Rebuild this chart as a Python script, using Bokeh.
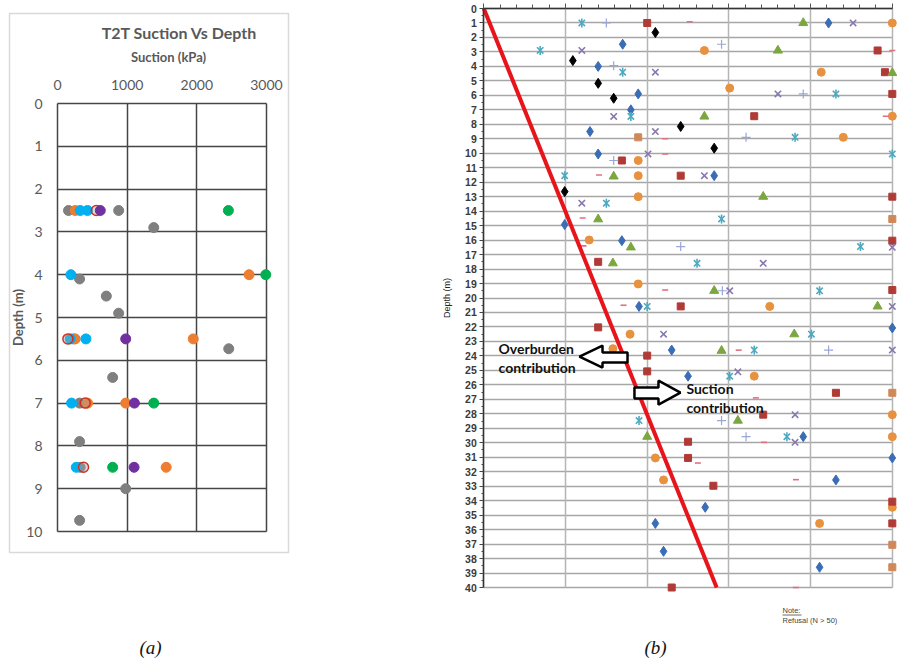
from bokeh.plotting import figure
from bokeh.layouts import row
from bokeh.models import Range1d, FixedTicker, LinearAxis, Grid
from bokeh.core.properties import value
from bokeh.embed import file_html
from bokeh.resources import INLINE
import math

# ---------------- Panel (a) data: suction (kPa) vs depth (m)
a_x_ticks = [0, 1000, 2000, 3000]
a_y_ticks = list(range(0, 11))
gray_x = [158, 878, 1382, 317, 701, 878, 230, 2458, 792, 317, 317, 326, 979, 317]
gray_y = [2.5, 2.5, 2.9, 4.1, 4.5, 4.9, 5.5, 5.73, 6.4, 7.0, 7.9, 8.5, 9.0, 9.74]
orange_x = [254, 2750, 254, 1949, 432, 979, 1560]
orange_y = [2.5, 4.0, 5.5, 5.5, 7.0, 7.0, 8.5]
cyan_x = [326, 430, 192, 182, 408, 202, 269]
cyan_y = [2.5, 2.5, 4.0, 5.5, 5.5, 7.0, 8.5]
ring_x = [557, 149, 398, 374]
ring_y = [2.5, 5.5, 7.0, 8.5]
purple_x = [614, 979, 1104, 1099]
purple_y = [2.5, 5.5, 7.0, 8.5]
green_x = [2453, 2990, 1382, 792]
green_y = [2.5, 4.0, 7.0, 8.5]

# ---------------- Panel (b) data: SPT N vs depth (m)
b_y_ticks = list(range(0, 41))
b_x_ticks = [0, 10, 20, 30, 40, 50]
bd_n = [17, 14, 18.9, 18, 13, 14, 28.2, 42.2, 9.9, 16.9, 19, 23, 50, 25, 39.1, 50, 43.1, 27.1, 21, 22, 41.1]
bd_d = [2.47, 4.0, 5.9, 7.0, 8.5, 10.05, 11.55, 1.0, 14.93, 16.04, 20.58, 23.6, 22.07, 25.4, 29.58, 31.05, 32.57, 34.46, 35.57, 37.5, 38.6]
kd_n = [21, 10.9, 14, 15.9, 24.1, 28.2, 9.9]
kd_d = [1.66, 3.6, 5.17, 6.2, 8.15, 9.65, 12.65]
rs_n = [20, 48.2, 49.1, 50, 33.1, 16.9, 24.1, 50, 50, 14, 50, 24.1, 14, 20, 20, 43.1, 34.2, 25, 25, 28.1, 50, 50, 23]
rs_d = [1.0, 2.9, 4.4, 5.9, 7.44, 10.5, 11.55, 13.0, 16.04, 17.5, 19.45, 20.58, 22.03, 23.98, 25.07, 26.55, 28.06, 29.93, 31.05, 32.97, 34.07, 35.57, 40.0]
gt_n = [39.1, 36, 50, 27, 15.9, 34.2, 14, 18, 15.8, 28.2, 48.2, 38, 29.1, 20, 31.1]
gt_d = [1.0, 2.9, 4.45, 7.46, 11.6, 13.0, 14.56, 16.5, 17.6, 19.5, 20.58, 22.5, 23.64, 29.58, 28.47]
px_n = [45.2, 12, 21, 36, 15.9, 21, 20.1, 27, 12, 50, 34.2, 30.1, 50, 22, 50, 31.1, 38.1, 38.1]
px_d = [1.0, 2.9, 4.4, 5.9, 7.46, 8.5, 10.05, 11.55, 13.45, 16.5, 17.6, 19.5, 20.58, 22.5, 23.6, 25.1, 28.06, 29.97]
ca_n = [12, 6.9, 17, 43.1, 18, 38.1, 50, 9.9, 15, 29.1, 46.1, 26.1, 41.1, 20, 40.1, 33.1, 30.1, 19, 37.1]
ca_d = [1.0, 2.9, 4.4, 5.9, 7.46, 8.9, 10.05, 11.55, 13.45, 14.54, 16.45, 17.6, 19.5, 20.58, 22.5, 23.6, 25.4, 28.47, 29.58]
oc_n = [50, 27, 41.3, 30.1, 50, 44, 18.9, 18.9, 18.9, 12.9, 18.9, 35, 17.9, 15.8, 33.1, 50, 50, 21, 22, 50, 41.1]
oc_d = [1.0, 2.9, 4.4, 5.5, 7.44, 8.9, 10.5, 11.55, 13.0, 15.99, 19.03, 20.58, 22.5, 23.5, 25.4, 28.06, 29.58, 31.05, 32.57, 34.46, 35.57]
bp_n = [15, 29.1, 15.9, 39.1, 32.1, 15.9, 24.1, 29.2, 42.2, 29.1, 32.1]
bp_d = [1.0, 2.47, 3.95, 5.9, 8.9, 10.5, 16.45, 19.5, 23.6, 28.47, 29.58]
pd_n = [25.2, 50, 49.2, 22.2, 22.2, 14.1, 12.1, 12.2, 22.2, 17.1, 31.2, 33.3, 34.3, 26.2, 38.2, 38.2]
pd_d = [0.92, 2.9, 7.44, 9.0, 10.05, 11.5, 14.47, 16.4, 19.45, 20.5, 23.6, 26.9, 29.97, 31.4, 32.55, 40.0]
ts_n = [18.9, 50, 50, 50, 50]
ts_d = [8.9, 14.54, 26.55, 37.05, 38.6]
line_n = [0, 28.5]
line_d = [0, 40]

# ---------------- Panel (a) geometry (pixel layout of the panel)
A_W, A_H = 420, 658
A_X0, A_KX = 57.0, 209.0 / 3000.0     # px of kPa 0, px per kPa
A_Y0, A_KY = 103.0, 42.8              # px of depth 0, px per m


def ax_(px):
    return (px - A_X0) / A_KX


def ay_(py):
    return (py - A_Y0) / A_KY


pa = figure(width=A_W, height=A_H, x_range=Range1d(ax_(0), ax_(A_W)),
            y_range=Range1d(ay_(A_H), ay_(0)), x_axis_location=None, y_axis_location=None,
            output_backend="svg", toolbar_location=None, title=None,
            min_border=0, min_border_left=0, min_border_right=0,
            min_border_top=0, min_border_bottom=0)
pa.outline_line_color = None
pa.xgrid.visible = False
pa.ygrid.visible = False

# light frame around panel (a)
pa.quad(left=[ax_(9)], right=[ax_(288)], top=[ay_(13)], bottom=[ay_(552)],
        fill_color=None, line_color="#D9D9D9", line_width=1.5)

pa.add_layout(Grid(dimension=0, ticker=FixedTicker(ticks=a_x_ticks), bounds=(0, 3000),
                   cross_bounds=(0, 10), grid_line_color="#454545", grid_line_width=1.5))
pa.add_layout(Grid(dimension=1, ticker=FixedTicker(ticks=a_y_ticks), bounds=(0, 10),
                   cross_bounds=(0, 3000), grid_line_color="#454545", grid_line_width=1.5))

xa_a = LinearAxis(fixed_location=0, bounds=(0, 3190), ticker=FixedTicker(ticks=a_x_ticks),
                  axis_label="Suction (kPa)")
ya_a = LinearAxis(fixed_location=0, bounds=(0, 10), ticker=FixedTicker(ticks=a_y_ticks),
                  axis_label="Depth (m)")
for ax in (xa_a, ya_a):
    ax.axis_line_color = None
    ax.major_tick_line_color = None
    ax.minor_tick_line_color = None
    ax.major_label_text_font = "Lato"
    ax.major_label_text_font_size = "14px"
    ax.major_label_text_color = "#595959"
    ax.axis_label_text_font = "Lato"
    ax.axis_label_text_font_style = "bold"
    ax.axis_label_text_font_size = "13px"
    ax.axis_label_text_color = "#595959"
xa_a.major_label_standoff = 8
xa_a.axis_label_standoff = 12
ya_a.major_label_standoff = 9
ya_a.axis_label_standoff = -3
pa.add_layout(xa_a, "above")
pa.add_layout(ya_a, "left")

pa.text([ax_(179)], [ay_(32)], text=["T2T Suction Vs Depth"], text_font=value("Lato"),
        text_font_style="bold", text_font_size="16px", text_color="#595959",
        text_align="center", text_baseline="middle")

pa.scatter(green_x, green_y, marker="circle", size=10, color="#00B050")
pa.scatter(gray_x, gray_y, marker="circle", size=10, color="#7F7F7F")
pa.scatter(orange_x, orange_y, marker="circle", size=10, color="#ED7D31")
pa.scatter(cyan_x, cyan_y, marker="circle", size=10, color="#00B0F0")
pa.scatter(ring_x, ring_y, marker="circle", size=10, fill_color="#A5A5A5", fill_alpha=0.4,
           line_color="#D03020", line_width=1.5)
pa.scatter(purple_x, purple_y, marker="circle", size=10, color="#7030A0")

pa.text([ax_(150)], [ay_(647)], text=["(a)"], text_font=value("Liberation Serif"),
        text_font_style="italic", text_font_size="19px", text_color="#111111",
        text_align="center", text_baseline="middle")

# ---------------- Panel (b) geometry
B_W, B_H = 477, 658
B_X0, B_KX = 63.3, 8.17
B_Y0, B_KY = 8.0, 14.475


def bx_(px):
    return (px - B_X0) / B_KX


def by_(py):
    return (py - B_Y0) / B_KY


pb = figure(width=B_W, height=B_H, x_range=Range1d(bx_(0), bx_(B_W)),
            y_range=Range1d(by_(B_H), by_(0)), x_axis_location=None, y_axis_location=None,
            output_backend="svg", toolbar_location=None, title=None,
            min_border=0, min_border_left=0, min_border_right=0,
            min_border_top=0, min_border_bottom=0)
pb.outline_line_color = None
pb.xgrid.visible = False
pb.ygrid.visible = False

pb.add_layout(Grid(dimension=1, ticker=FixedTicker(ticks=b_y_ticks), bounds=(0, 40),
                   cross_bounds=(0, 50), grid_line_color="#A6A6A6", grid_line_width=1.6))
pb.add_layout(Grid(dimension=0, ticker=FixedTicker(ticks=b_x_ticks), bounds=(0, 50),
                   cross_bounds=(0, 40), grid_line_color="#B5B5B5", grid_line_width=1.5))

xa_b = LinearAxis(fixed_location=0, bounds=(0, 50),
                  ticker=FixedTicker(ticks=b_x_ticks, minor_ticks=list(range(0, 51, 2))))
xa_b.major_label_text_color = None
xa_b.axis_line_color = "#333333"
xa_b.axis_line_width = 1.5
xa_b.major_tick_line_color = "#555555"
xa_b.minor_tick_line_color = "#555555"
xa_b.major_tick_out = 5
xa_b.major_tick_in = 0
xa_b.minor_tick_out = 4
xa_b.minor_tick_in = 0
pb.add_layout(xa_b, "above")

ya_b = LinearAxis(fixed_location=0, bounds=(0, 40),
                  ticker=FixedTicker(ticks=b_y_ticks, minor_ticks=[v + 0.5 for v in range(0, 40)]),
                  axis_label="Depth (m)")
ya_b.major_label_text_font = "Liberation Sans"
ya_b.major_label_text_font_style = "bold"
ya_b.major_label_text_font_size = "10.5px"
ya_b.major_label_text_color = "#3a3a3a"
ya_b.major_label_standoff = 3
ya_b.axis_line_color = "#333333"
ya_b.axis_line_width = 1.5
ya_b.major_tick_line_color = "#444444"
ya_b.minor_tick_line_color = "#444444"
ya_b.major_tick_out = 4
ya_b.major_tick_in = 0
ya_b.minor_tick_out = 2
ya_b.minor_tick_in = 0
ya_b.axis_label_text_font = "Liberation Sans"
ya_b.axis_label_text_font_style = "normal"
ya_b.axis_label_text_font_size = "9px"
ya_b.axis_label_text_color = "#222222"
ya_b.axis_label_standoff = 10
pb.add_layout(ya_b, "left")

pb.scatter(ts_n, ts_d, marker="square", size=7, color="#D08858")
pb.scatter(oc_n, oc_d, marker="circle", size=8, color="#E8913E")
pb.scatter(rs_n, rs_d, marker="square", size=7, color="#B03A36")
pb.scatter(gt_n, gt_d, marker="triangle", size=9, color="#7BA640")
pb.scatter(bd_n, bd_d, marker="diamond", size=10, color="#3A6DB5")
pb.scatter(kd_n, kd_d, marker="diamond", size=10, color="#000000")
pb.scatter(px_n, px_d, marker="x", size=9, line_color="#8878B0", line_width=1.6)
# star marker: an x with a vertical stroke
pb.scatter(ca_n, ca_d, marker="x", size=9, line_color="#4EA9C0", line_width=1.6)
pb.scatter(ca_n, ca_d, marker="dash", size=9, angle=math.pi / 2, line_color="#4EA9C0",
           line_width=1.6)
pb.scatter(bp_n, bp_d, marker="cross", size=9, line_color="#9AA6D6", line_width=1.2)
pb.scatter(pd_n, pd_d, marker="dash", size=6, line_color="#E07080", line_width=1.6)

pb.line(line_n, line_d, line_color="#E8141B", line_width=4)

# hollow arrows (annotation shapes)
arrow_l_n = [11.71, 14.53, 14.53, 17.59, 17.59, 14.53, 14.53]
arrow_l_d = [24.05, 23.29, 23.77, 23.77, 24.46, 24.46, 24.81]
arrow_r_n = [18.44, 21.38, 21.38, 24.07, 21.38, 21.38, 18.44]
arrow_r_d = [26.19, 26.19, 25.71, 26.54, 27.37, 26.95, 26.95]
pb.patch(arrow_l_n, arrow_l_d, fill_color="white", line_color="black", line_width=2.5)
pb.patch(arrow_r_n, arrow_r_d, fill_color="white", line_color="black", line_width=2.5)

ann_n = [1.8, 1.8, 24.8, 24.8]
ann_d = [23.5, 24.81, 26.26, 27.57]
ann_t = ["Overburden", "contribution", "Suction", "contribution"]
pb.text(ann_n, ann_d, text=ann_t, text_font=value("Lato"), text_font_style="bold",
        text_font_size="14px", text_color="#111111", text_baseline="middle", text_align="left")

pb.text([bx_(362), bx_(362)], [by_(610), by_(620)], text=["Note:", "Refusal (N > 50)"],
        text_font=value("Liberation Sans"), text_font_size="7.5px", text_color="#444444",
        text_baseline="middle", text_align="left")
pb.segment(x0=[bx_(362)], y0=[by_(614.5)], x1=[bx_(381)], y1=[by_(614.5)],
           line_color="#444444", line_width=0.8)
pb.text([bx_(235)], [by_(647)], text=["(b)"], text_font=value("Liberation Serif"),
        text_font_style="italic", text_font_size="19px", text_color="#111111",
        text_align="center", text_baseline="middle")

layout = row(pa, pb)
open("out.html", "w").write(file_html(layout, INLINE))
